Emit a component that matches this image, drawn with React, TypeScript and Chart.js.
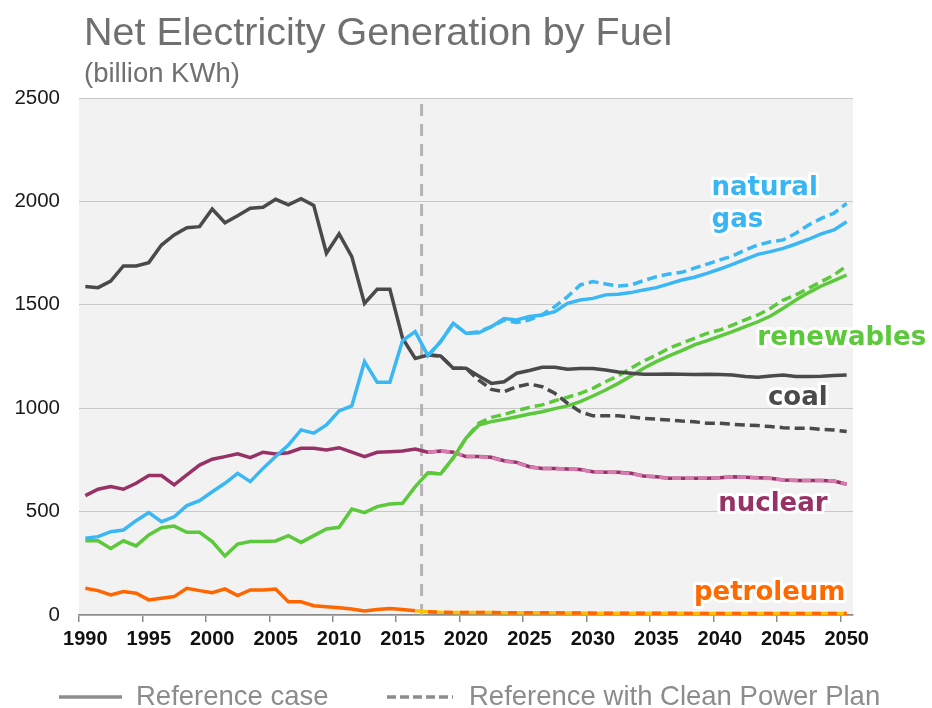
import { useEffect, useRef } from 'react';
import { Chart, registerables } from 'chart.js';

Chart.register(...registerables);

const years = [
  '1990', '1991', '1992', '1993', '1994', '1995', '1996', '1997', '1998', '1999',
  '2000', '2001', '2002', '2003', '2004', '2005', '2006', '2007', '2008', '2009',
  '2010', '2011', '2012', '2013', '2014', '2015', '2016', '2017', '2018', '2019',
  '2020', '2021', '2022', '2023', '2024', '2025', '2026', '2027', '2028', '2029',
  '2030', '2031', '2032', '2033', '2034', '2035', '2036', '2037', '2038', '2039',
  '2040', '2041', '2042', '2043', '2044', '2045', '2046', '2047', '2048', '2049', '2050',
];

const N = null;

const coalRef = [
  1588, 1583, 1615, 1688, 1688, 1704, 1789, 1838, 1873, 1878,
  1963, 1897, 1931, 1967, 1972, 2010, 1983, 2013, 1981, 1749,
  1843, 1733, 1507, 1575, 1575, 1338, 1241, 1257, 1253, 1193,
  1193, 1156, 1120, 1128, 1169, 1182, 1198, 1198, 1188, 1192,
  1192, 1185, 1175, 1169, 1164, 1164, 1165, 1164, 1163, 1164,
  1163, 1161, 1153, 1150, 1156, 1161, 1153, 1153, 1154, 1158, 1161,
];
const coalCpp = [
  N, N, N, N, N, N, N, N, N, N,
  N, N, N, N, N, N, N, N, N, N,
  N, N, N, N, N, N, N, 1257, 1253, 1193,
  1193, 1136, 1091, 1080, 1104, 1117, 1104, 1072, 1024, 983,
  963, 963, 963, 958, 951, 947, 943, 938, 935, 927,
  927, 922, 919, 916, 911, 906, 903, 903, 898, 895, 887,
];
const gasRef = [
  371, 379, 403, 411, 456, 495, 451, 475, 529, 553,
  596, 637, 685, 645, 709, 766, 822, 895, 879, 919,
  987, 1011, 1225, 1125, 1125, 1327, 1370, 1254, 1322, 1411,
  1362, 1365, 1394, 1434, 1427, 1443, 1451, 1467, 1507, 1523,
  1531, 1548, 1551, 1559, 1572, 1583, 1601, 1620, 1633, 1652,
  1673, 1696, 1720, 1744, 1757, 1773, 1794, 1817, 1843, 1862, 1902,
];
const gasCpp = [
  N, N, N, N, N, N, N, N, N, N,
  N, N, N, N, N, N, N, N, N, N,
  N, N, N, N, N, N, N, 1254, 1322, 1411,
  1362, 1370, 1394, 1425, 1414, 1427, 1452, 1491, 1539, 1596,
  1612, 1601, 1591, 1596, 1617, 1636, 1649, 1657, 1677, 1697,
  1717, 1736, 1765, 1789, 1805, 1814, 1846, 1886, 1918, 1943, 1991,
];
const renewRef = [
  359, 359, 322, 359, 334, 387, 422, 430, 400, 400,
  355, 285, 343, 355, 355, 358, 384, 351, 384, 416,
  424, 513, 495, 524, 537, 540, 621, 688, 682, 760,
  855, 918, 935, 946, 959, 972, 983, 998, 1011, 1032,
  1059, 1088, 1120, 1156, 1193, 1225, 1253, 1278, 1306, 1327,
  1349, 1370, 1394, 1418, 1446, 1483, 1523, 1559, 1591, 1617, 1644,
];
const renewCpp = [
  N, N, N, N, N, N, N, N, N, N,
  N, N, N, N, N, N, N, N, N, N,
  N, N, N, N, N, N, N, 688, 682, 760,
  855, 927, 956, 970, 988, 1004, 1016, 1036, 1053, 1072,
  1096, 1128, 1156, 1193, 1228, 1257, 1290, 1314, 1338, 1362,
  1378, 1402, 1427, 1451, 1483, 1523, 1548, 1580, 1612, 1644, 1688,
];
const nuclearRef = [
  577, 608, 621, 608, 637, 674, 674, 629, 677, 725,
  753, 766, 779, 761, 787, 779, 785, 806, 806, 798,
  809, 788, 766, 787, 790, 793, 803, 787, 793, 787,
  766, 766, 763, 746, 738, 717, 709, 709, 706, 704,
  693, 690, 690, 685, 672, 669, 661, 661, 661, 661,
  664, 669, 666, 664, 661, 653, 650, 650, 650, 648, 632,
];
const nuclearCpp = [
  N, N, N, N, N, N, N, N, N, N,
  N, N, N, N, N, N, N, N, N, N,
  N, N, N, N, N, N, N, 787, 793, 787,
  766, 766, 761, 744, 736, 715, 709, 708, 706, 703,
  693, 690, 689, 684, 672, 668, 661, 661, 661, 662,
  664, 668, 666, 663, 660, 653, 651, 650, 650, 648, 633,
];
const petroRef = [
  129, 118, 97, 113, 105, 73, 81, 89, 129, 118,
  108, 126, 94, 121, 121, 126, 64, 64, 45, 40,
  35, 29, 19, 27, 31, 27, 21, 16, 13, 12,
  12, 12, 12, 11, 11, 11, 11, 11, 10, 10,
  9, 8, 8, 8, 8, 8, 8, 8, 7, 7,
  7, 7, 7, 7, 7, 7, 7, 7, 7, 7, 7,
];
const petroCpp = [
  N, N, N, N, N, N, N, N, N, N,
  N, N, N, N, N, N, N, N, N, N,
  N, N, N, N, N, N, N, 16, 13, 12,
  12, 12, 12, 11, 11, 11, 11, 11, 10, 10,
  9, 8, 8, 8, 8, 8, 8, 8, 7, 7,
  7, 7, 7, 7, 7, 7, 7, 7, 7, 7, 7,
];

const yTicks = [0, 500, 1000, 1500, 2000, 2500];

const titleText = 'Net Electricity Generation by Fuel';
const subtitleText = '(billion KWh)';
const legendSolid = 'Reference case';
const legendDashed = 'Reference with Clean Power Plan';

// series labels: anchored in data space (year, value)
const seriesLabels = [
  { text: 'natural', color: '#38b5f3', year: 2039.35, value: 2031, align: 'left' },
  { text: 'gas', color: '#38b5f3', year: 2039.35, value: 1878, align: 'left' },
  { text: 'renewables', color: '#5cc83b', year: 2042.96, value: 1306, align: 'left' },
  { text: 'coal', color: '#4a4a4a', year: 2048.5, value: 1016, align: 'right' },
  { text: 'nuclear', color: '#983266', year: 2048.5, value: 504, align: 'right' },
  { text: 'petroleum', color: '#ff6a00', year: 2049.9, value: 73, align: 'right' },
];

const HIST_END = 26; // index of 2016

const COAL = '#4a4a4a';
const GAS = '#3ab7f5';
const RENEW = '#5cc83b';
const NUC = '#983266';
const NUC_PROJ = '#d77cb0';
const PET = '#ff6600';
const PET_PROJ = '#ffc000';

const decorPlugin = {
  id: 'decor',
  beforeDraw(chart: any) {
    const { ctx, chartArea: a } = chart;
    ctx.save();
    ctx.fillStyle = '#f2f2f2';
    ctx.fillRect(a.left, a.top, a.right - a.left, a.bottom - a.top);
    ctx.restore();
  },
  beforeDatasetsDraw(chart: any) {
    const { ctx, chartArea: a, scales } = chart;
    const x = (scales.x.getPixelForValue(HIST_END) + scales.x.getPixelForValue(HIST_END + 1)) / 2;
    ctx.save();
    ctx.strokeStyle = '#b4b4b4';
    ctx.lineWidth = 3;
    ctx.setLineDash([12, 8]);
    ctx.beginPath();
    ctx.moveTo(x, a.top + 6);
    ctx.lineTo(x, a.bottom);
    ctx.stroke();
    ctx.restore();
  },
  afterDraw(chart: any) {
    const { ctx, scales } = chart;
    ctx.save();
    // title
    ctx.fillStyle = '#707070';
    ctx.textBaseline = 'alphabetic';
    ctx.textAlign = 'left';
    ctx.font = '39.5px "Liberation Sans", Arial, sans-serif';
    ctx.fillText(titleText, 84, 45);
    ctx.font = '27.5px "Liberation Sans", Arial, sans-serif';
    ctx.fillText(subtitleText, 84, 82);

    // series labels
    ctx.font = 'bold 26px "DejaVu Sans", sans-serif';
    ctx.lineJoin = 'round';
    for (const l of seriesLabels) {
      const x = scales.x.getPixelForValue(l.year - 1990);
      const y = scales.y.getPixelForValue(l.value);
      ctx.textAlign = l.align as CanvasTextAlign;
      ctx.strokeStyle = 'rgba(255,255,255,0.95)';
      ctx.lineWidth = 6;
      ctx.strokeText(l.text, x, y);
      ctx.fillStyle = l.color;
      ctx.fillText(l.text, x, y);
    }

    // legend
    const gy = 697;
    ctx.strokeStyle = '#8c8c8c';
    ctx.lineWidth = 3.5;
    ctx.setLineDash([]);
    ctx.beginPath();
    ctx.moveTo(59, gy);
    ctx.lineTo(122, gy);
    ctx.stroke();
    ctx.setLineDash([9, 4]);
    ctx.beginPath();
    ctx.moveTo(387, gy);
    ctx.lineTo(453, gy);
    ctx.stroke();
    ctx.setLineDash([]);
    ctx.fillStyle = '#8c8c8c';
    ctx.textAlign = 'left';
    ctx.font = '27.5px "Liberation Sans", Arial, sans-serif';
    ctx.fillText(legendSolid, 136, 705);
    ctx.fillText(legendDashed, 469, 705);
    ctx.restore();
  },
};

function refLine(label: string, data: any[], color: string, projColor?: string) {
  return {
    label,
    data,
    borderColor: color,
    backgroundColor: color,
    borderWidth: 3.5,
    pointRadius: 0,
    tension: 0,
    fill: false,
    segment: projColor
      ? { borderColor: (c: any) => (c.p0DataIndex >= HIST_END ? projColor : color) }
      : undefined,
  };
}

function cppLine(label: string, data: any[], color: string, dash: number[] = [10, 5]) {
  return {
    label,
    data,
    borderColor: color,
    backgroundColor: color,
    borderWidth: 3.5,
    borderDash: dash,
    pointRadius: 0,
    tension: 0,
    fill: false,
    spanGaps: false,
  };
}

export default function App() {
  const canvasRef = useRef<HTMLCanvasElement | null>(null);

  useEffect(() => {
    document.body.style.margin = '0';
    const canvas = canvasRef.current;
    if (!canvas) return;
    // Chart.js draws the first dataset on top
    const chart = new Chart(canvas, {
      type: 'line',
      data: {
        labels: years,
        datasets: [
          cppLine('Natural gas (CPP)', gasCpp, GAS),
          refLine('Natural gas (Reference)', gasRef, GAS),
          cppLine('Coal (CPP)', coalCpp, COAL),
          refLine('Coal (Reference)', coalRef, COAL),
          cppLine('Renewables (CPP)', renewCpp, RENEW),
          refLine('Renewables (Reference)', renewRef, RENEW),
          cppLine('Nuclear (CPP)', nuclearCpp, NUC_PROJ, [9, 4]),
          refLine('Nuclear (Reference)', nuclearRef, NUC),
          cppLine('Petroleum (CPP)', petroCpp, PET, [9, 7]),
          refLine('Petroleum (Reference)', petroRef, PET, PET_PROJ),
        ] as any,
      },
      options: {
        animation: false,
        responsive: true,
        maintainAspectRatio: false,
        layout: { padding: { left: 0, right: 79, top: 98, bottom: 53 } },
        plugins: {
          legend: { display: false },
          tooltip: { enabled: false },
          title: { display: false },
        },
        scales: {
          x: {
            type: 'category',
            offset: true,
            border: { display: true, color: '#8c8c8c', width: 1.5 },
            grid: {
              offset: true,
              drawOnChartArea: false,
              drawTicks: true,
              tickLength: 7,
              lineWidth: 1.5,
              tickColor: (c: any) =>
                typeof c.index === 'number' && c.index % 5 === 0 ? '#8c8c8c' : 'rgba(0,0,0,0)',
            },
            ticks: {
              autoSkip: false,
              maxRotation: 0,
              minRotation: 0,
              padding: 5,
              color: '#111111',
              font: { family: '"Liberation Sans", Arial, sans-serif', size: 20, weight: 'bold' },
              callback: (_v: any, i: number) => (i % 5 === 0 ? years[i] : ''),
            },
            afterFit: (s: any) => {
              s.height = 40;
            },
          },
          y: {
            min: 0,
            max: 2500,
            border: { display: false },
            grid: { color: '#c8c8c8', lineWidth: 1, drawTicks: false },
            afterBuildTicks: (s: any) => {
              s.ticks = yTicks.map((v) => ({ value: v }));
            },
            ticks: {
              padding: 19,
              color: '#1a1a1a',
              font: { family: '"Liberation Sans", Arial, sans-serif', size: 20.5 },
              callback: (v: any) => String(v),
            },
            afterFit: (s: any) => {
              s.width = 79;
            },
          },
        },
      },
      plugins: [decorPlugin],
    });
    return () => chart.destroy();
  }, []);

  return (
    <div style={{ position: 'relative', width: '932px', height: '708px', background: '#ffffff' }}>
      <canvas ref={canvasRef} />
    </div>
  );
}
